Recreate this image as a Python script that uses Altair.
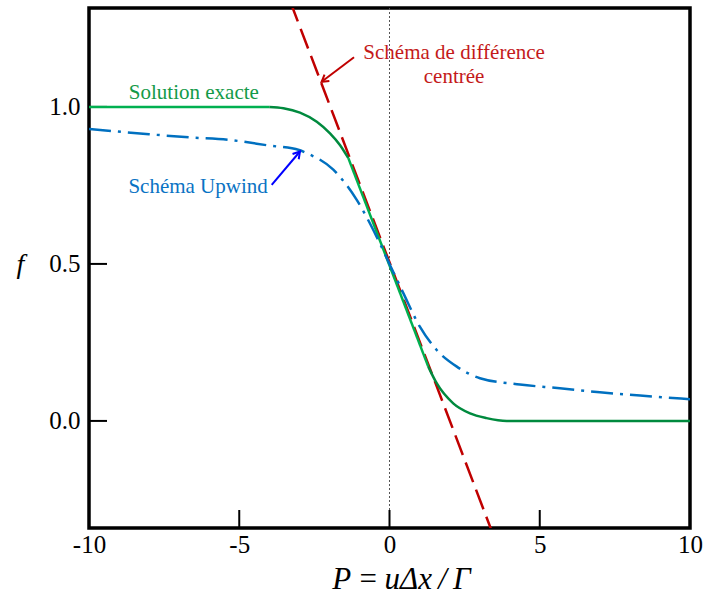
import altair as alt
import pandas as pd

# ---- data ----
exact_P = [-10, -4.0, -3.53, -2.98, -2.42, -1.98, -1.65, -1.37, 1.29, 1.57, 2.12, 2.68, 3.23, 3.9, 10]
exact_f = [1.0, 1.0, 0.996, 0.982, 0.953, 0.916, 0.879, 0.837, 0.173, 0.12, 0.056, 0.024, 0.009, 0.0, 0.0]
# segments of the exact curve (index ranges) and their tone
exact_parts = [(0, 1, "plat"), (1, 7, "courbe1"), (7, 8, "lin"), (8, 14, "courbe2")]

upwind_P = [-10, -8.0, -6.67, -5.34, -4.01, -3.01, -2.76, -1.87, -1.09, -0.43, 0.0, 0.46, 1.01, 1.57, 2.24, 3.01, 4.34, 5.67, 7.0, 8.34, 10]
upwind_f = [0.930, 0.913, 0.903, 0.895, 0.877, 0.863, 0.853, 0.800, 0.704, 0.587, 0.500, 0.407, 0.300, 0.226, 0.173, 0.136, 0.116, 0.104, 0.091, 0.081, 0.069]

central_P = [-3.3, 3.4]
central_f = [1.335, -0.35]

x_ticks = [-10, -5, 0, 5, 10]
y_ticks = [0.0, 0.5, 1.0]
x_inner_ticks = [-5, 0, 5]

label_text = ["Solution exacte", "Schéma Upwind", "Schéma de différence", "centrée"]
label_P = [-6.51, -6.37, 2.15, 2.15]
label_f = [1.025, 0.726, 1.153, 1.076]
label_color = ["#139a48", "#0a73c4", "#c41a1a", "#c41a1a"]

arrow_name = ["upwind", "centre"]
arrow_tail_P = [-3.92, -1.18]
arrow_tail_f = [0.752, 1.158]
arrow_tip_P = [-2.98, -2.26]
arrow_tip_f = [0.858, 1.08]
arrow_angle = [40, 233]
arrow_color = ["#0000ff", "#c00000"]

XD = [-10, 10]
YD = [-0.341, 1.315]
FONT = "Liberation Serif"

xs = alt.Scale(domain=XD, nice=False, zero=False)
ys = alt.Scale(domain=YD, nice=False, zero=False)

# exact solution in segments
rows = []
for i, (a, b, part) in enumerate(exact_parts):
    for k in range(a, b + 1):
        rows.append({"P": exact_P[k], "f": exact_f[k], "part": part, "seg": i, "k": k})
exact_df = pd.DataFrame(rows)
upwind_df = pd.DataFrame({"P": upwind_P, "f": upwind_f})
central_df = pd.DataFrame({"P": central_P, "f": central_f})
labels_df = pd.DataFrame({"t": label_text, "P": label_P, "f": label_f, "c": label_color})
arrows_df = pd.DataFrame({"n": arrow_name, "P": arrow_tail_P, "f": arrow_tail_f,
                          "P2": arrow_tip_P, "f2": arrow_tip_f, "a": arrow_angle, "c": arrow_color})

X = alt.X("P:Q", scale=xs,
          axis=alt.Axis(values=x_ticks, title="P\u2009=\u2009uΔx\u2009/\u2009Γ", grid=False, domain=False,
                        ticks=False, labelFont=FONT, labelFontSize=25, labelColor="black",
                        labelExpr="replace(datum.label, '\u2212', '-')",
                        labelPadding=4, labelFlush=False, labelBound=False, labelOverlap=False,
                        titleFont=FONT, titleFontSize=31, titleFontStyle="italic",
                        titleFontWeight="normal", titleColor="black",
                        titleX=312, titleY=60, titleBaseline="alphabetic", titleAlign="center"))
Y = alt.Y("f:Q", scale=ys,
          axis=alt.Axis(values=y_ticks, format=".1f", title="f", grid=False, domain=False,
                        ticks=False, labelFont=FONT, labelFontSize=25, labelColor="black",
                        labelPadding=9, labelFlush=False, labelBound=False, labelOverlap=False,
                        titleFont=FONT, titleFontSize=28, titleFontStyle="italic",
                        titleFontWeight="normal", titleColor="black", titleAngle=0,
                        titleX=-69, titleY=256, titleBaseline="middle", titleAlign="center"))

zero_line = alt.Chart(pd.DataFrame({"P": [0]})).mark_rule(
    color="#555555", strokeWidth=1, strokeDash=[2, 2]).encode(x=alt.X("P:Q", scale=xs))

ytick_layer = alt.Chart(pd.DataFrame({"f": y_ticks})).mark_rule(
    color="black", strokeWidth=2).encode(y=alt.Y("f:Q", scale=ys), x=alt.value(0), x2=alt.value(18))
xtick_layer = alt.Chart(pd.DataFrame({"P": x_inner_ticks})).mark_rule(
    color="black", strokeWidth=2).encode(x=alt.X("P:Q", scale=xs), y=alt.value(520), y2=alt.value(502))

central = alt.Chart(central_df).mark_line(
    color="#c00000", strokeWidth=2.5, strokeDash=[21, 8], clip=True).encode(x=X, y=Y)

exact = alt.Chart(exact_df).mark_line(strokeWidth=2.5, interpolate="monotone", clip=True).encode(
    x=X, y=Y, order="k:Q", detail="seg:N",
    color=alt.Color("part:N", legend=None,
                    scale=alt.Scale(domain=["plat", "courbe1", "lin", "courbe2"],
                                    range=["#00b050", "#008a3e", "#00b050", "#008a3e"])))

upwind = alt.Chart(upwind_df).mark_line(
    color="#0070c0", strokeWidth=2.5, strokeDash=[22, 7, 3, 7], interpolate="monotone", clip=True
).encode(x=X, y=Y)

labels = alt.Chart(labels_df).mark_text(font=FONT, fontSize=21, align="center", baseline="alphabetic").encode(
    x=alt.X("P:Q", scale=xs), y=alt.Y("f:Q", scale=ys), text="t:N", color=alt.Color("c:N", scale=None))

arrow_shaft = alt.Chart(arrows_df).mark_rule(strokeWidth=2).encode(
    x=alt.X("P:Q", scale=xs), y=alt.Y("f:Q", scale=ys), x2="P2:Q", y2="f2:Q",
    color=alt.Color("c:N", scale=None))
arrow_head = alt.Chart(arrows_df).mark_point(
    shape="M-0.6,1L0,0L0.6,1", size=180, filled=False, strokeWidth=2, opacity=1).encode(
    x=alt.X("P2:Q", scale=xs), y=alt.Y("f2:Q", scale=ys),
    angle=alt.Angle("a:Q", scale=None), color=alt.Color("c:N", scale=None))

chart = alt.layer(zero_line, ytick_layer, xtick_layer, central, exact, upwind,
                  arrow_shaft, arrow_head, labels).resolve_scale(color="independent").properties(
    width=601, height=520,
    padding={"left": 89, "top": 8, "right": 19, "bottom": 68},
    autosize=alt.AutoSizeParams(type="none"),
    background="white",
).configure_view(stroke="black", strokeWidth=3.5)

chart.save("out.html", embed_options={"renderer": "svg", "actions": False})
